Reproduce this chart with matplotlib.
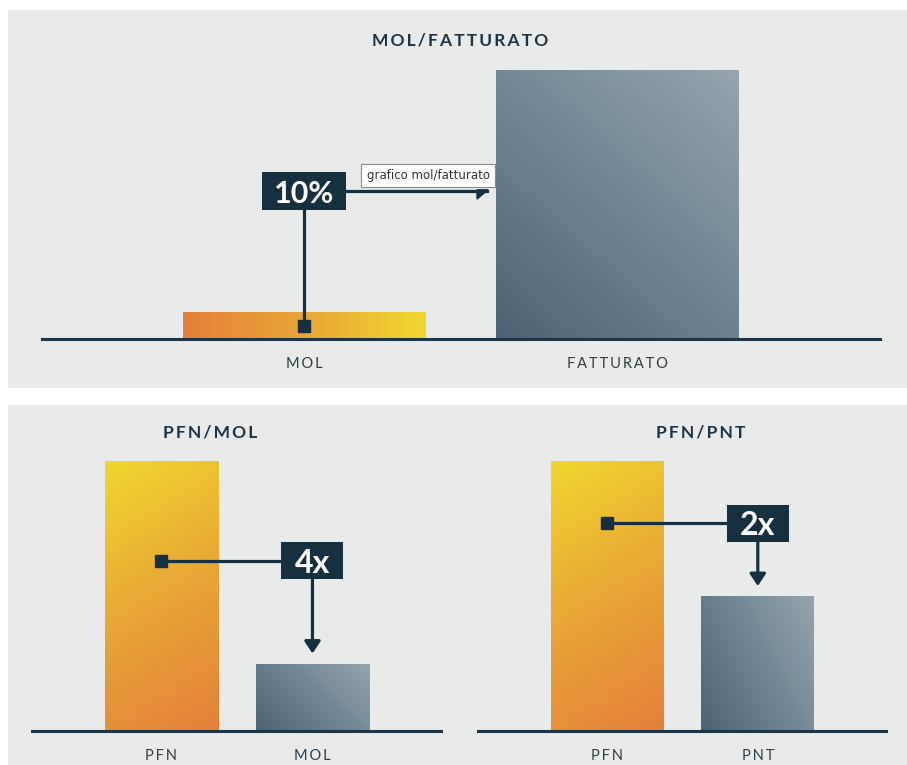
import numpy as np
import matplotlib
matplotlib.use('Agg')
import matplotlib.pyplot as plt
from matplotlib.colors import LinearSegmentedColormap
from matplotlib.patches import Rectangle, Polygon
from matplotlib.transforms import ScaledTranslation

# dati
top_cats = ['MOL', 'FATTURATO']
top_vals = [10, 100]
top_label = '10%'
top_tip = 'grafico mol/fatturato'

left_cats = ['PFN', 'MOL']
left_vals = [4, 1]
left_label = '4x'

right_cats = ['PFN', 'PNT']
right_vals = [2, 1]
right_label = '2x'

BG = '#e8ebea'
NAVY = '#16303f'
LINE = '#1f3545'
TXT = '#2b3e4b'
warm = LinearSegmentedColormap.from_list('warm', ['#e4803a', '#e9a636', '#f0d62f'])
cool = LinearSegmentedColormap.from_list('cool', ['#4b6374', '#6f8594', '#95a4ad'])
FONT = ['Lato', 'DejaVu Sans']
TS = '\u2009'


def spaced(s):
    return TS.join(s)


def grad_fill(ax, bar, cmap, dx, dy):
    x0, y0 = bar.get_x(), bar.get_y()
    w, h = bar.get_width(), bar.get_height()
    gx, gy = np.meshgrid(np.linspace(0, 1, 64), np.linspace(0, 1, 64))
    t = dx * gx + dy * gy
    t = (t - t.min()) / (t.max() - t.min())
    im = ax.imshow(t, cmap=cmap, extent=(x0, x0 + w, y0, y0 + h), origin='lower',
                   aspect='auto', zorder=2, interpolation='bilinear')
    im.set_clip_path(bar)
    bar.set_facecolor('none')


def setup(ax, cats, vals, width, xlim):
    bars = ax.bar(range(len(vals)), vals, width=width, zorder=2, linewidth=0)
    ax.set_xlim(*xlim)
    ax.set_ylim(0, max(vals))
    ax.axhline(0, color=LINE, lw=2.2, zorder=3, clip_on=False)
    for s in ax.spines.values():
        s.set_visible(False)
    ax.set_yticks([])
    ax.set_xticks(range(len(cats)))
    ax.set_xticklabels([spaced(c) for c in cats], family=FONT, fontsize=10.5, color=TXT)
    ax.tick_params(axis='x', length=0, pad=13)
    ax.set_facecolor('none')
    ax.autoscale(False)
    return bars


def value_box(ax, x, y, label, size, bw, bh):
    # box in pollici, centrato sul punto dati
    tr = fig.dpi_scale_trans + ScaledTranslation(x, y, ax.transData)
    ax.add_patch(Rectangle((-bw / 2, -bh / 2), bw, bh, transform=tr, fc=NAVY, ec='none',
                           zorder=7, clip_on=False))
    ax.text(x, y, label, ha='center', va='center_baseline', color='white', fontsize=size,
            fontweight='bold', family=FONT, zorder=8)


fig = plt.figure(figsize=(9.07, 7.65), dpi=100)
fig.patch.set_facecolor('white')
fig.add_artist(Rectangle((8 / 907, 1 - 388 / 765), 1, 378 / 765, transform=fig.transFigure,
                         fc=BG, ec='none', zorder=0))
fig.add_artist(Rectangle((8 / 907, 0), 1, 360 / 765, transform=fig.transFigure,
                         fc=BG, ec='none', zorder=0))

# --- MOL/FATTURATO ---
ax1 = fig.add_axes([42 / 907, 1 - 339 / 765, 838 / 907, 269 / 765])
w1 = 0.775
b1 = setup(ax1, top_cats, top_vals, w1, (-0.837, 1.836))
grad_fill(ax1, b1[0], warm, 1, 0)
grad_fill(ax1, b1[1], cool, 0.8, 1)
ybox = 0.55 * top_vals[1]
xend = 1 - w1 / 2 - 0.03
ax1.plot([0, 0], [top_vals[0] / 2, ybox], color=NAVY, lw=2.3, zorder=5, clip_on=False)
ax1.plot([0, xend], [ybox, ybox], color=NAVY, lw=2.3, zorder=5, clip_on=False)
ax1.plot(0, top_vals[0] / 2, marker='s', ms=9, color=NAVY, zorder=6)
head = Polygon([(-0.10, 0.012), (0.01, 0.012), (-0.10, -0.08)], closed=True, fc=NAVY, ec=NAVY,
               transform=fig.dpi_scale_trans + ScaledTranslation(xend, ybox, ax1.transData),
               zorder=6, clip_on=False)
ax1.add_patch(head)
value_box(ax1, 0, ybox, top_label, 22, 0.84, 0.38)
ax1.text(1 - w1 / 2 - 0.022, ybox + 5.8, top_tip, ha='right', va='center', fontsize=8.5,
         color='#333333', family='DejaVu Sans', zorder=9,
         bbox=dict(boxstyle='square,pad=0.45', fc='white', ec='#8a8a8a', lw=0.8))
fig.text(460 / 907, 1 - 40 / 765, spaced('MOL/FATTURATO'), ha='center', va='center',
         fontsize=12.5, fontweight='bold', color=LINE, family=FONT)


def ratio_panel(rect, cats, vals, label, frac, title, tx):
    ax = fig.add_axes(rect)
    w = 0.748
    b = setup(ax, cats, vals, w, (-0.855, 1.85))
    grad_fill(ax, b[0], warm, -0.25, 1)
    grad_fill(ax, b[1], cool, 1, 0.6)
    y = frac * vals[0]
    tip = vals[1] + 0.037 * vals[0]
    ax.plot([0, 1], [y, y], color=NAVY, lw=2.3, zorder=5)
    ax.plot(0, y, marker='s', ms=9, color=NAVY, zorder=6)
    ax.annotate('', xy=(1, tip), xytext=(1, y), zorder=5,
                arrowprops=dict(arrowstyle='-|>,head_length=0.45,head_width=0.3', color=NAVY,
                                lw=2.3, shrinkA=0, shrinkB=0, mutation_scale=16))
    value_box(ax, 1, y, label, 23, 0.62, 0.37)
    fig.text(tx / 907, 1 - 433 / 765, spaced(title), ha='center', va='center',
             fontsize=12.5, fontweight='bold', color=LINE, family=FONT)
    return ax


ratio_panel([32 / 907, 34 / 765, 409 / 907, 270 / 765], left_cats, left_vals, left_label,
            0.63, 'PFN/MOL', 210)
ratio_panel([478 / 907, 34 / 765, 408 / 907, 270 / 765], right_cats, right_vals, right_label,
            0.77, 'PFN/PNT', 701)

fig.savefig('out.png', dpi=100, facecolor=fig.get_facecolor())
